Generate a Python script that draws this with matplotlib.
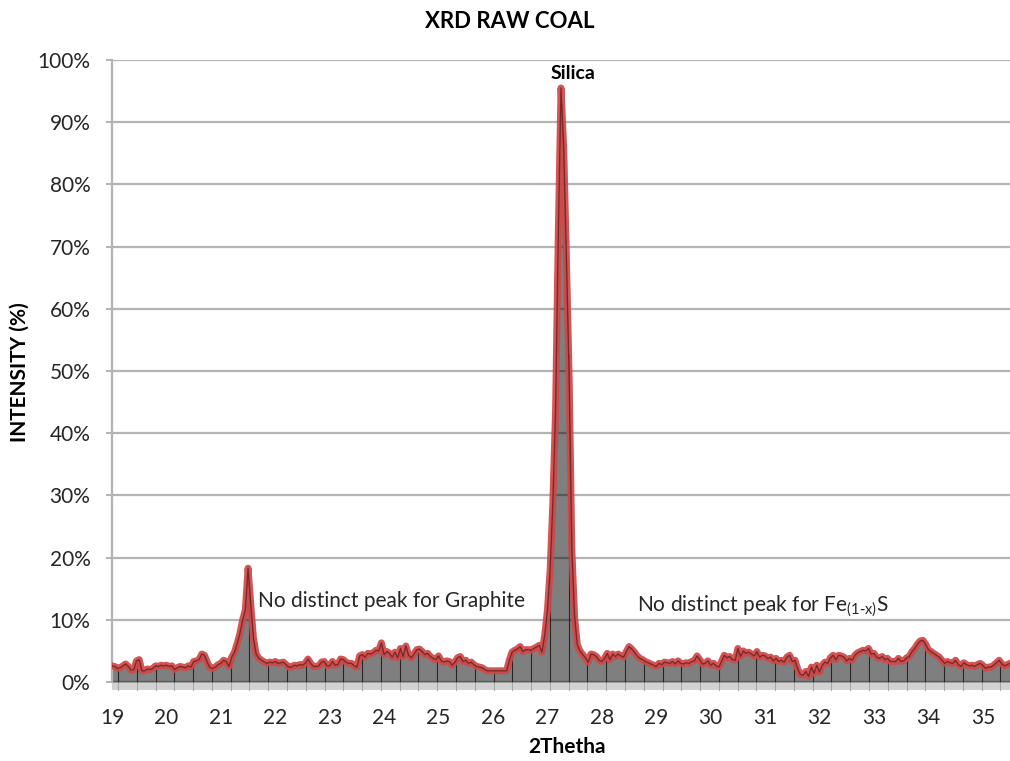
import numpy as np
import matplotlib
matplotlib.use("Agg")
import matplotlib.pyplot as plt
from matplotlib.patches import Rectangle

plt.rcParams['font.family'] = ['Lato', 'DejaVu Sans']

# 2-theta scan: 19.00 .. 35.50 deg in 0.05 deg steps, intensity in % of max
two_theta_start = 19.0
two_theta_step = 0.05

int_19_23 = [2.6, 2.5, 2.2, 2.3, 2.6, 2.9, 2.5, 1.9, 2.0, 3.4,
             3.6, 1.8, 1.8, 2.1, 2.0, 2.2, 2.6, 2.5, 2.7, 2.6,
             2.7, 2.5, 2.6, 2.0, 2.3, 2.5, 2.4, 2.3, 2.6, 2.4,
             3.3, 3.4, 3.6, 4.5, 4.3, 3.2, 2.3, 2.2, 2.4, 2.8,
             3.0, 3.5, 3.3, 2.5, 4.0, 4.8, 6.2, 7.8, 10.0, 11.6,
             18.3, 12.5, 7.0, 4.5, 3.8, 3.5, 3.2, 3.0, 3.2, 3.1,
             3.3, 3.0, 3.1, 3.2, 2.8, 2.4, 2.4, 2.7, 2.6, 2.8,
             2.7, 3.0, 3.7, 3.0, 2.5, 2.5, 2.6, 3.2, 3.3, 2.6,
             2.6]
int_23_27 = [3.3, 2.7, 2.8, 3.7, 3.6, 3.2, 3.0, 3.0, 2.6, 2.4,
             4.2, 4.4, 4.0, 4.6, 4.5, 4.7, 5.1, 5.0, 6.3, 4.4,
             4.9, 4.6, 4.0, 4.8, 3.9, 5.4, 4.1, 5.8, 4.3, 3.9,
             4.5, 5.2, 5.3, 4.9, 4.4, 4.6, 4.1, 3.8, 3.6, 4.2,
             3.4, 3.2, 3.4, 3.3, 2.7, 3.2, 3.9, 4.1, 3.3, 3.5,
             3.0, 3.2, 2.8, 2.5, 2.4, 2.3, 2.0, 1.8, 1.8, 1.8,
             1.8, 1.8, 1.8, 1.8, 1.8, 3.5, 4.8, 5.1, 5.3, 5.7,
             4.9, 5.2, 5.2, 5.1, 5.4, 5.6, 5.9]
int_silica = [4.8, 7.5, 11.5, 18.0, 28.8, 43.7, 72.0, 95.5, 85.9, 68.0,
              49.0, 21.2, 10.5]
int_27_31 = [6.0, 5.0, 4.4, 3.9, 3.2, 4.5, 4.4, 4.1, 3.5, 3.3,
             3.8, 4.6, 3.6, 4.5, 4.1, 4.5, 4.2, 4.0, 4.9, 5.7,
             5.3, 4.8, 4.2, 3.8, 3.6, 3.3, 3.1, 2.9, 2.7, 2.5,
             3.0, 2.8, 3.2, 3.1, 3.0, 3.3, 2.9, 3.4, 3.0, 2.9,
             3.1, 3.0, 3.3, 3.4, 4.2, 3.6, 2.9, 3.0, 3.4, 2.7,
             3.0, 2.6, 2.4, 3.3, 4.3, 3.9, 4.1, 3.6, 3.5, 5.4,
             4.1, 5.0, 4.6, 4.8, 4.5, 4.2, 4.9, 4.0, 4.3, 4.2,
             3.8, 4.0, 3.4, 3.8, 3.3]
int_31_35 = [3.5, 3.2, 4.0, 4.3, 3.3, 3.5, 2.1, 1.2, 1.1, 1.7,
             0.9, 2.4, 1.4, 2.7, 1.6, 2.7, 3.2, 3.0, 3.9, 4.3,
             3.6, 4.3, 4.2, 4.0, 3.4, 3.8, 3.5, 4.3, 4.7, 4.9,
             5.1, 5.0, 5.4, 4.5, 4.6, 4.0, 3.8, 4.1, 3.6, 3.8,
             3.3, 3.3, 3.3, 3.8, 3.3, 3.4, 3.9, 4.1, 4.9, 5.4,
             6.1, 6.6, 6.7, 6.1, 5.2, 4.9, 4.6, 4.3, 4.0, 3.5,
             3.0, 3.3, 3.1, 3.0, 3.5, 2.8, 2.5, 3.1, 2.8, 2.6,
             2.7, 2.5, 2.8, 3.0, 2.7, 2.2, 2.4, 2.4, 2.7, 3.1,
             3.5, 2.9, 2.6, 2.8, 3.0]

x_labels = list(range(19, 36))
y_ticks = [i / 100 for i in range(0, 101, 10)]

intensity = np.array(int_19_23 + int_23_27 + int_silica + int_27_31 + int_31_35) / 100.0
two_theta = two_theta_start + two_theta_step * np.arange(len(intensity))

W, H = 1010, 761
fig = plt.figure(figsize=(W / 100, H / 100), dpi=100)
ax = fig.add_axes([112 / W, 79 / H, (W - 112) / W, 622 / H])

ax.set_xlim(19.0, 35.5)
ax.set_ylim(0, 1.0)

# horizontal gridlines
for t in y_ticks[1:]:
    ax.axhline(t, color='#b4b4b4', lw=1.6, zorder=1)

# filled area
ax.fill_between(two_theta, 0, intensity, color='black', alpha=0.5, lw=0, zorder=2)

# drop lines at the category tick marks
drop_start, drop_step = 19.11, 0.345
drops = np.arange(drop_start, 35.5, drop_step)
ax.vlines(drops, 0, np.interp(drops, two_theta, intensity), color='#262626', lw=0.8, zorder=3)

# outline of the scan
ax.plot(two_theta, intensity, color='#d04848', lw=5.0, alpha=0.92, solid_joinstyle='round', zorder=4)
ax.plot(two_theta, intensity, color='#6a1c1c', lw=1.0, alpha=0.8, zorder=5)

# floor band under the plot area
ax.add_patch(Rectangle((0, -8 / 622), 1, 8 / 622, transform=ax.transAxes,
                       facecolor='#d2d2d2', edgecolor='none', clip_on=False, zorder=1))
for d in drops:
    ax.plot([d, d], [-8 / 622, 0], color='#a8a8a8', lw=0.8, clip_on=False, zorder=1,
            transform=ax.get_xaxis_transform())

for s in ['top', 'right', 'bottom']:
    ax.spines[s].set_visible(False)
ax.spines['left'].set_color('#b4b4b4')
ax.spines['left'].set_linewidth(1.6)
ax.axhline(0, color='#b4b4b4', lw=1.6, zorder=1)

ax.set_yticks(y_ticks)
ax.set_yticklabels([f'{int(round(t * 100))}%' for t in y_ticks])
ax.set_xticks(x_labels)
ax.set_xticklabels([str(v) for v in x_labels])
ax.tick_params(axis='y', length=4.5, width=1.4, color='#b4b4b4', pad=11,
               labelsize=15, labelcolor='#262626')
ax.tick_params(axis='x', length=0, pad=19, labelsize=15, labelcolor='#262626')

# annotations
ax.text(27.47, 0.979, 'Silica', ha='center', va='center', fontsize=14,
        fontweight='bold', color='black')
ax.text(21.68, 0.130, 'No distinct peak for Graphite', ha='left', va='center',
        fontsize=15, color='#262626')
ax.text(28.65, 0.121, r'No distinct peak for Fe$_{\mathregular{(1\text{-}x)}}$S', ha='left',
        va='center', fontsize=15, color='#262626')

fig.text(510 / W, 1 - 22 / H, 'XRD RAW COAL', ha='center', va='center',
         fontsize=16, fontweight='bold', color='black')
fig.text(567 / W, 1 - 747 / H, '2Thetha', ha='center', va='center',
         fontsize=15, fontweight='bold', color='black')
fig.text(20 / W, 1 - 372 / H, 'INTENSITY (%)', ha='center', va='center',
         rotation=90, fontsize=15, fontweight='bold', color='black')

fig.savefig('out.png', dpi=100)
